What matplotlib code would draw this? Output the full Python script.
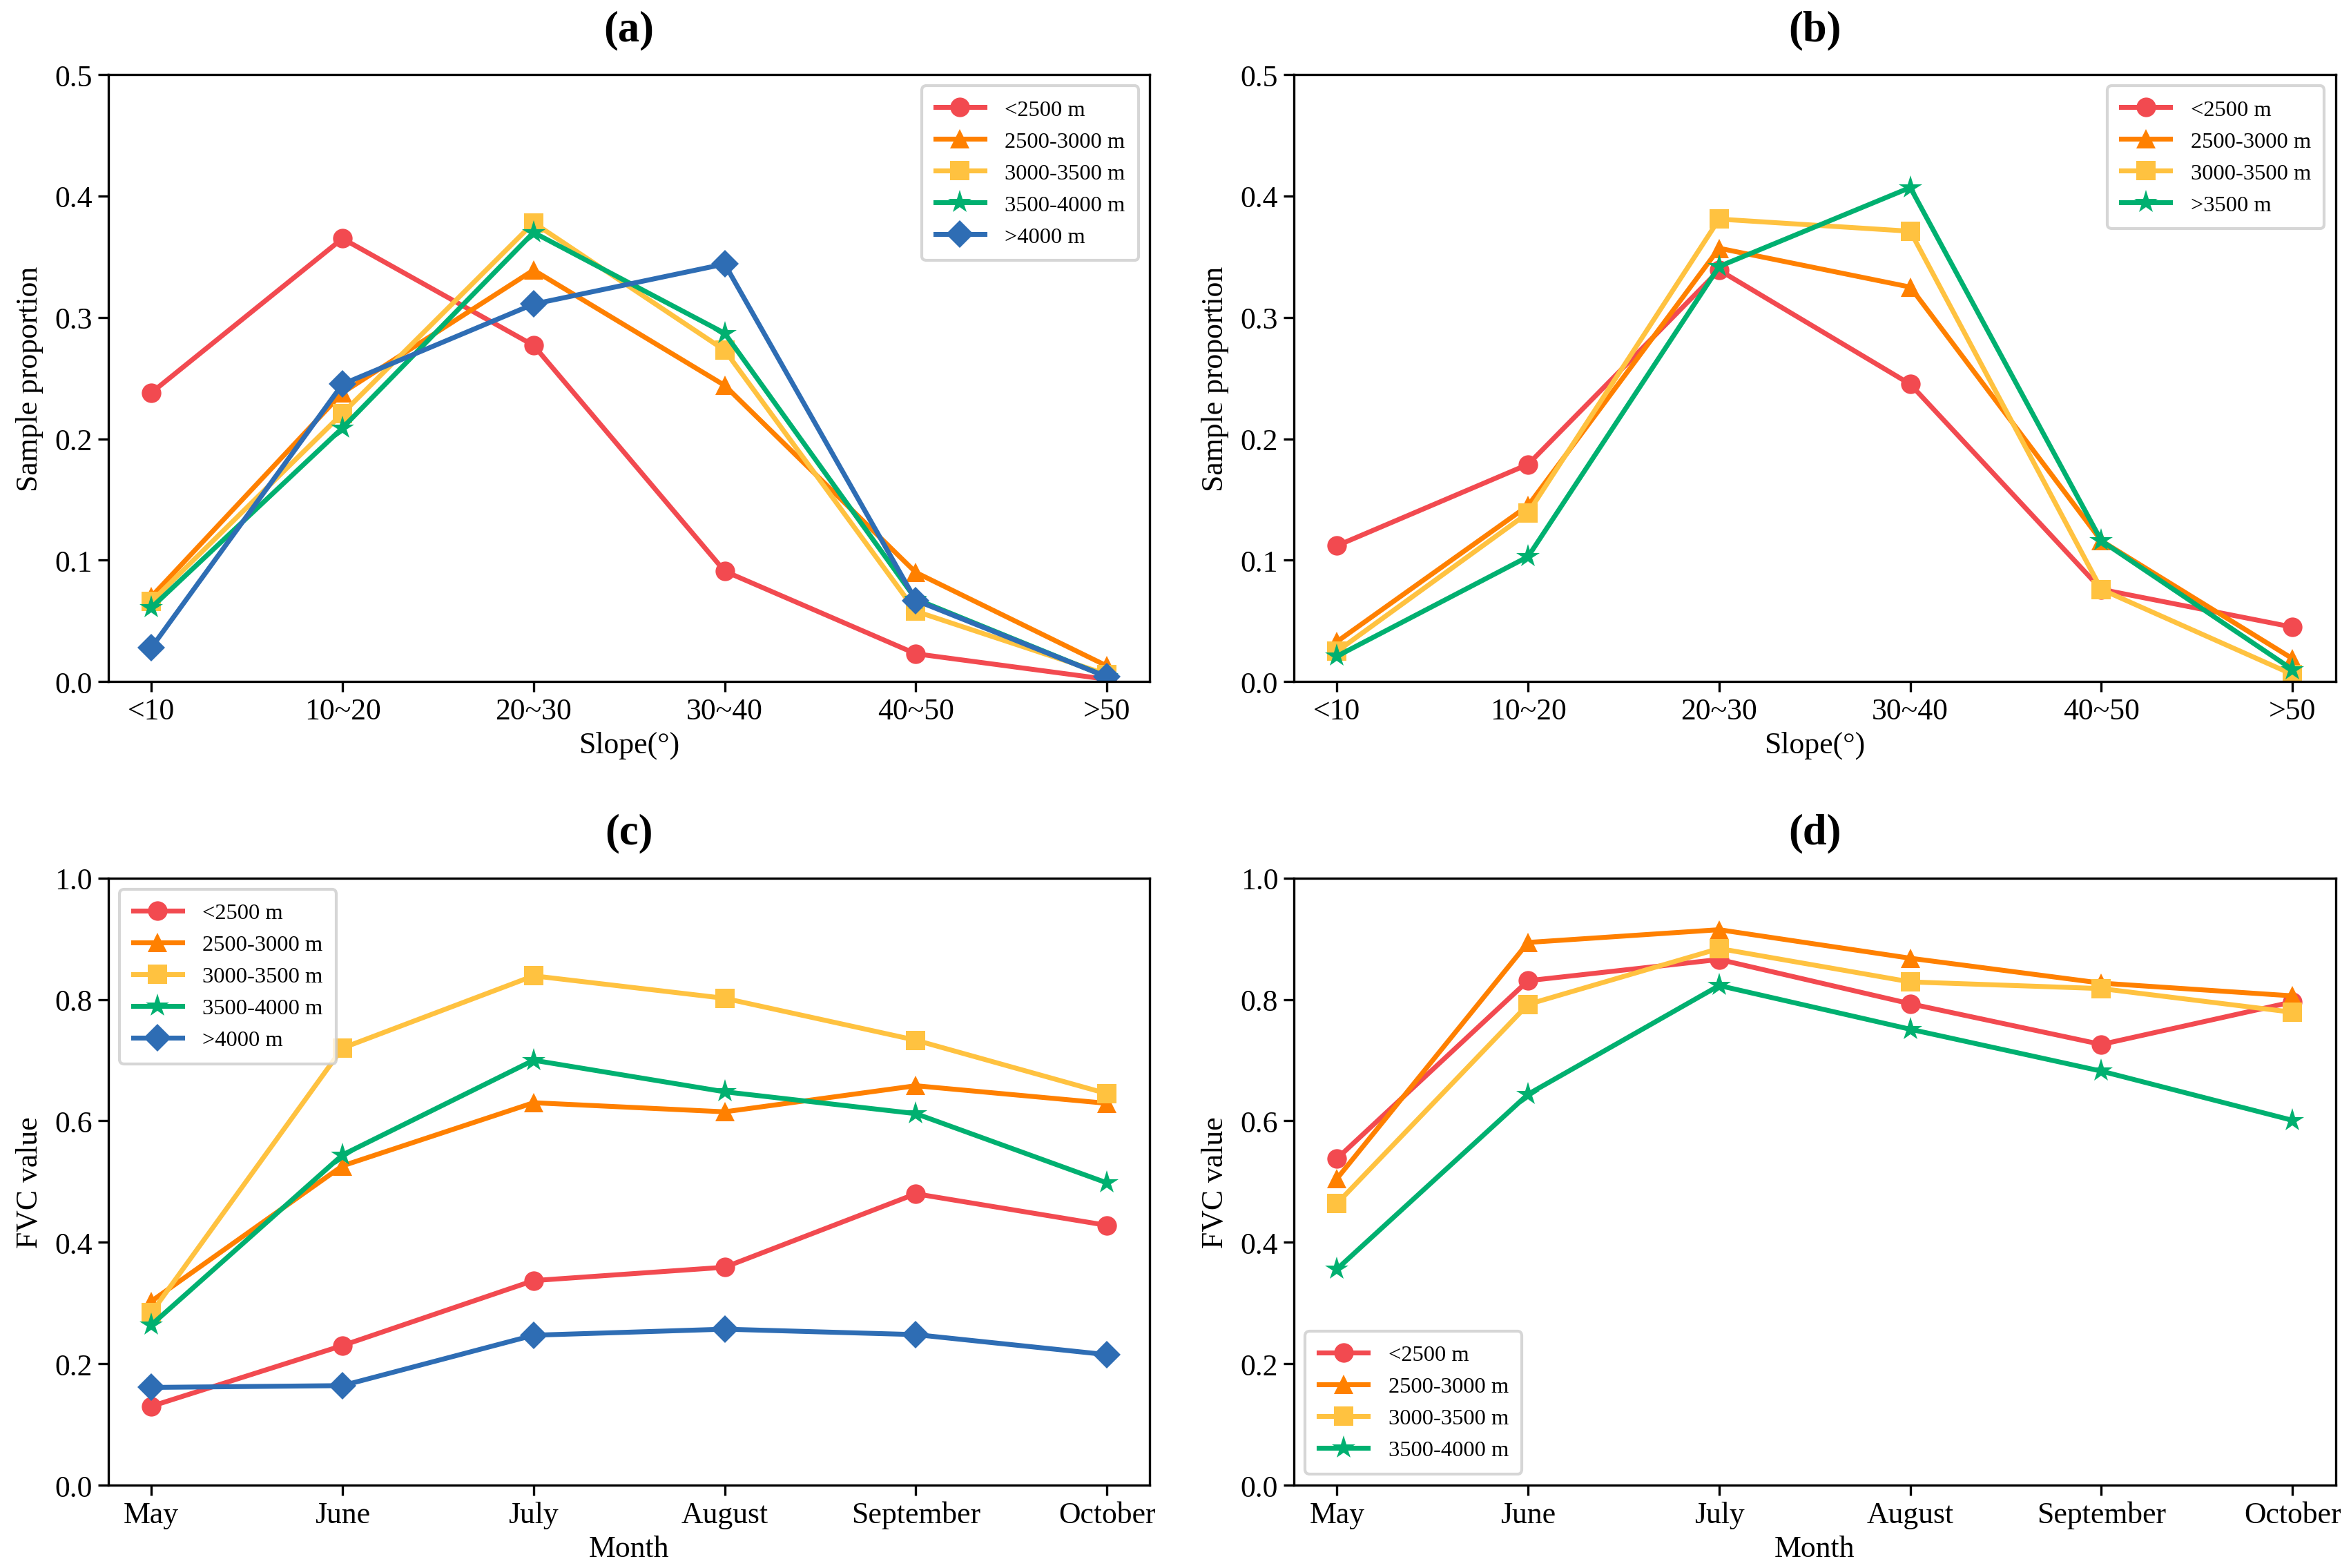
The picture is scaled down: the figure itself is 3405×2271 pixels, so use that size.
import matplotlib
matplotlib.use("Agg")
import matplotlib.pyplot as plt

plt.rcParams['font.family'] = ['Liberation Serif', 'DejaVu Serif']
plt.rcParams['mathtext.fontset'] = 'stix'

slope_cats = ['<10', '10~20', '20~30', '30~40', '40~50', '>50']
months = ['May', 'June', 'July', 'August', 'September', 'October']

labels5 = ['<2500 m', '2500-3000 m', '3000-3500 m', '3500-4000 m', '>4000 m']
labels_b = ['<2500 m', '2500-3000 m', '3000-3500 m', '>3500 m']
labels_d = ['<2500 m', '2500-3000 m', '3000-3500 m', '3500-4000 m']

# (a) sample proportion by slope
a_lt2500 = [0.238, 0.365, 0.277, 0.091, 0.023, 0.002]
a_2500_3000 = [0.070, 0.238, 0.339, 0.244, 0.090, 0.013]
a_3000_3500 = [0.066, 0.221, 0.378, 0.273, 0.058, 0.006]
a_3500_4000 = [0.061, 0.209, 0.370, 0.287, 0.068, 0.004]
a_gt4000 = [0.028, 0.245, 0.311, 0.344, 0.067, 0.004]

# (b) sample proportion by slope
b_lt2500 = [0.112, 0.179, 0.339, 0.245, 0.076, 0.045]
b_2500_3000 = [0.033, 0.145, 0.357, 0.325, 0.116, 0.019]
b_3000_3500 = [0.025, 0.139, 0.381, 0.371, 0.076, 0.006]
b_gt3500 = [0.021, 0.103, 0.342, 0.407, 0.116, 0.010]

# (c) FVC by month
c_lt2500 = [0.130, 0.230, 0.337, 0.359, 0.480, 0.428]
c_2500_3000 = [0.303, 0.526, 0.630, 0.615, 0.658, 0.629]
c_3000_3500 = [0.284, 0.720, 0.839, 0.802, 0.733, 0.645]
c_3500_4000 = [0.264, 0.544, 0.700, 0.648, 0.612, 0.498]
c_gt4000 = [0.161, 0.164, 0.247, 0.257, 0.248, 0.215]

# (d) FVC by month
d_lt2500 = [0.538, 0.831, 0.866, 0.793, 0.726, 0.796]
d_2500_3000 = [0.505, 0.894, 0.915, 0.868, 0.827, 0.806]
d_3000_3500 = [0.464, 0.792, 0.884, 0.829, 0.818, 0.779]
d_3500_4000 = [0.356, 0.644, 0.823, 0.751, 0.682, 0.601]

colors = ['#F24A50', '#FF8000', '#FFC240', '#00B070', '#2E6DB4']
markers = ['o', '^', 's', '*', 'D']
msizes = [6.8, 6.8, 6.8, 8.5, 6.8]

fig = plt.figure(figsize=(11.35, 7.5733), dpi=300)

W = 0.443
H = 0.387
positions = {
    'a': [0.0461, 0.565, W, H],
    'b': [0.5504, 0.565, W, H],
    'c': [0.0461, 0.0528, W, H],
    'd': [0.5504, 0.0528, W, H],
}


def draw(ax, cats, series, labels, title, xlabel, ylabel, ylim, yticks, loc):
    x = list(range(len(cats)))
    for i, (vals, lab) in enumerate(zip(series, labels)):
        ax.plot(x, vals, color=colors[i], marker=markers[i], markersize=msizes[i],
                linewidth=1.7, label=lab, markeredgewidth=0)
    ax.set_xticks(x)
    ax.set_xticklabels(cats, fontsize=10.5)
    ax.margins(x=0.045)
    ax.set_ylim(*ylim)
    ax.set_yticks(yticks)
    ax.set_yticklabels([f'{t:.1f}' for t in yticks], fontsize=10.5)
    ax.set_xlabel(xlabel, fontsize=10.5, labelpad=2)
    ax.set_ylabel(ylabel, fontsize=10.5, labelpad=4)
    ax.set_title(title, fontsize=15, fontweight='bold', pad=12)
    ax.tick_params(axis='both', length=3.5, width=0.8, pad=2)
    for s in ax.spines.values():
        s.set_linewidth(0.8)
    ax.legend(loc=loc, fontsize=7.8, handlelength=2.2, borderpad=0.6,
              labelspacing=0.5, handletextpad=0.9)


yt_a = [0.0, 0.1, 0.2, 0.3, 0.4, 0.5]
yt_c = [0.0, 0.2, 0.4, 0.6, 0.8, 1.0]

ax = fig.add_axes(positions['a'])
draw(ax, slope_cats, [a_lt2500, a_2500_3000, a_3000_3500, a_3500_4000, a_gt4000],
     labels5, '(a)', 'Slope(°)', 'Sample proportion', (0, 0.5), yt_a, 'upper right')

ax = fig.add_axes(positions['b'])
draw(ax, slope_cats, [b_lt2500, b_2500_3000, b_3000_3500, b_gt3500],
     labels_b, '(b)', 'Slope(°)', 'Sample proportion', (0, 0.5), yt_a, 'upper right')

ax = fig.add_axes(positions['c'])
draw(ax, months, [c_lt2500, c_2500_3000, c_3000_3500, c_3500_4000, c_gt4000],
     labels5, '(c)', 'Month', 'FVC value', (0, 1.0), yt_c, 'upper left')

ax = fig.add_axes(positions['d'])
draw(ax, months, [d_lt2500, d_2500_3000, d_3000_3500, d_3500_4000],
     labels_d, '(d)', 'Month', 'FVC value', (0, 1.0), yt_c, 'lower left')

fig.savefig('out.png', dpi=300, facecolor='white')
